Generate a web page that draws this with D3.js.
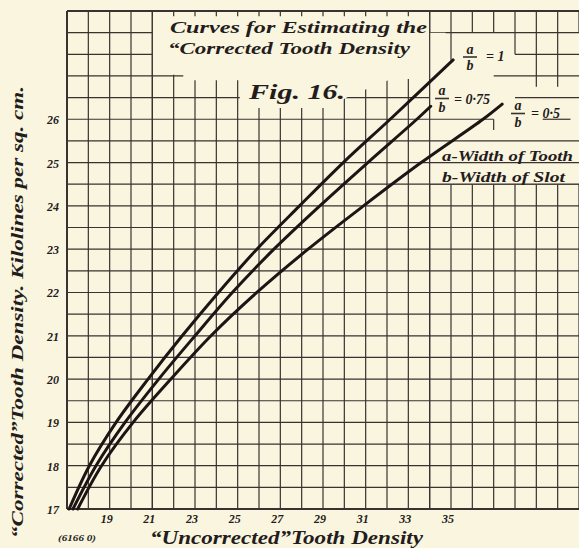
<!DOCTYPE html>
<html>
<head>
<meta charset="utf-8">
<script src="https://cdn.jsdelivr.net/npm/d3@7"></script>
<style>
  body { margin: 0; background: #f9f5de; }
  svg { display: block; }
  text { font-family: "Liberation Serif", "DejaVu Serif", serif; font-style: italic; font-weight: bold; fill: #241c1c; }
</style>
</head>
<body>
<svg id="chart" width="579" height="548"></svg>
<script>
// values (kilolines per sq. cm)
const xTicks = [19, 21, 23, 25, 27, 29, 31, 33, 35];
const yTicks = [17, 18, 19, 20, 21, 22, 23, 24, 25, 26];

// a/b = 1
const uncorrected_1 = [17.1, 18.05, 19.3, 20.8, 22.4, 24.1, 25.9, 27.9, 29.95, 32.15, 35.1];
const corrected_1 = [17, 18, 19, 20, 21, 22, 23, 24, 25, 26, 27.37];
// a/b = 0.75
const uncorrected_075 = [17.28, 18.36, 19.72, 21.3, 23.0, 24.75, 26.7, 28.85, 31.1, 33.4, 34.05];
const corrected_075 = [17, 18, 19, 20, 21, 22, 23, 24, 25, 26, 26.3];
// a/b = 0.5
const uncorrected_05 = [17.5, 18.62, 20.1, 21.87, 23.75, 25.9, 28.3, 30.9, 33.6, 36.5, 37.4];
const corrected_05 = [17, 18, 19, 20, 21, 22, 23, 24, 25, 26, 26.35];

const svg = d3.select('#chart');
const width = 579, height = 548;

const x = d3.scaleLinear().domain([17, 41]).range([67, 579]);
const y = d3.scaleLinear().domain([17, 28.5]).range([509, 11]);

const ink = '#3a3131';
const paper = '#f9f5de';

svg.append('rect').attr('width', width).attr('height', height).attr('fill', paper);

// full grid first, blank patches get painted over it afterwards
const grid = svg.append('g').attr('stroke', ink).attr('stroke-width', 1.2);
grid.selectAll('.v').data(d3.range(17, 42)).enter().append('line')
    .attr('x1', d => x(d)).attr('x2', d => x(d))
    .attr('y1', y(17)).attr('y2', y(28.5));
grid.selectAll('.h').data(d3.range(17, 28.51, 0.5)).enter().append('line')
    .attr('x1', x(17)).attr('x2', x(41))
    .attr('y1', d => y(d)).attr('y2', d => y(d));

// blank patches (in chart units) where the printed grid was left out
const blanks = [
    [[21, 28.38], [34, 28.38], [34, 26.93], [32.2, 26.93], [30.25, 26.54], [29.2, 26.26],
     [25.1, 26.26], [25.1, 26.9], [22.45, 26.9], [22.45, 27.03], [21, 27.03]],
    [[34, 28], [41.5, 28], [41.5, 24.5], [34, 24.5]]
];
svg.append('g').selectAll('polygon').data(blanks).enter().append('polygon')
    .attr('points', d => d.map(p => [x(p[0]), y(p[1])].join(',')).join(' '))
    .attr('fill', paper);

// grid pieces that survive inside the blank patches
const keep = [
    [21, 28.5, 21, 17], [34, 28.5, 34, 17],
    [34.75, 28, 41, 28], [34, 24.5, 41, 24.5],
    [35, 28, 35, 27.35], [38, 28, 38, 27.5], [39, 28, 39, 26.75], [40, 28, 40, 26.75],
    [38, 27.5, 41, 27.5], [37, 27, 41, 27], [38, 26.5, 41, 26.5],
    [34, 26, 37, 26], [37, 26, 37, 25.75], [39.3, 26, 40.6, 26],
    [34, 25.5, 41, 25.5], [34, 25, 41, 25]
];
svg.append('g').attr('stroke', ink).attr('stroke-width', 1.2)
    .selectAll('line').data(keep).enter().append('line')
    .attr('x1', d => x(d[0])).attr('y1', d => y(d[1]))
    .attr('x2', d => x(d[2])).attr('y2', d => y(d[3]));

// frame
const frame = svg.append('g').attr('stroke', ink).attr('stroke-width', 2);
frame.append('line').attr('x1', x(17)).attr('x2', x(41)).attr('y1', y(17)).attr('y2', y(17));
frame.append('line').attr('x1', x(17)).attr('x2', x(17)).attr('y1', y(17)).attr('y2', y(28.5));
frame.append('line').attr('x1', x(17)).attr('x2', x(41)).attr('y1', y(28.5)).attr('y2', y(28.5));

// curves
const series = [
    { xs: uncorrected_1, ys: corrected_1 },
    { xs: uncorrected_075, ys: corrected_075 },
    { xs: uncorrected_05, ys: corrected_05 }
];
const line = d3.line().x(d => x(d[0])).y(d => y(d[1])).curve(d3.curveCatmullRom.alpha(0.5));
svg.append('g').selectAll('path').data(series).enter().append('path')
    .attr('d', s => line(s.xs.map((v, i) => [v, s.ys[i]])))
    .attr('fill', 'none').attr('stroke', '#1b1515').attr('stroke-width', 3)
    .attr('stroke-linecap', 'round');

// tick labels
svg.append('g').selectAll('text').data(yTicks).enter().append('text')
    .attr('x', 59).attr('y', d => y(d) + 5)
    .attr('text-anchor', 'end').attr('font-size', 12).text(d => d);
svg.append('g').selectAll('text').data(xTicks).enter().append('text')
    .attr('x', d => x(d) - 3).attr('y', 523)
    .attr('text-anchor', 'middle').attr('font-size', 12).text(d => d);

// axis titles
svg.append('text').attr('x', 150).attr('y', 544).attr('font-size', 19)
    .attr('textLength', 273).attr('lengthAdjust', 'spacingAndGlyphs')
    .text('\u201cUncorrected\u201dTooth Density');
svg.append('text').attr('x', 58).attr('y', 541).attr('font-size', 9)
    .attr('textLength', 38).attr('lengthAdjust', 'spacingAndGlyphs').text('(6166 0)');
svg.append('text').attr('transform', 'translate(23,312) rotate(-90)')
    .attr('text-anchor', 'middle').attr('font-size', 17)
    .attr('textLength', 452).attr('lengthAdjust', 'spacingAndGlyphs')
    .text('\u201cCorrected\u201dTooth Density. Kilolines per sq. cm.');

// title box text
svg.append('text').attr('x', 170).attr('y', 33).attr('font-size', 17)
    .attr('textLength', 257).attr('lengthAdjust', 'spacingAndGlyphs')
    .text('Curves for Estimating the');
svg.append('text').attr('x', 168).attr('y', 54).attr('font-size', 17)
    .attr('textLength', 242).attr('lengthAdjust', 'spacingAndGlyphs')
    .text('\u201cCorrected  Tooth Density');
svg.append('text').attr('x', 249).attr('y', 99).attr('font-size', 21)
    .attr('textLength', 96).attr('lengthAdjust', 'spacingAndGlyphs')
    .text('Fig. 16.');

// a/b labels
const fractions = [
    { cx: 470, bar: 57, value: '= 1', vx: 486, vy: 61 },
    { cx: 442, bar: 98.5, value: '= 0\u00b775', vx: 454, vy: 104 },
    { cx: 518, bar: 113.5, value: '= 0\u00b75', vx: 531, vy: 118 }
];
const fr = svg.append('g').selectAll('g').data(fractions).enter().append('g');
fr.append('text').attr('x', d => d.cx).attr('y', d => d.bar - 3.5)
    .attr('text-anchor', 'middle').attr('font-size', 14).text('a');
fr.append('text').attr('x', d => d.cx).attr('y', d => d.bar + 13)
    .attr('text-anchor', 'middle').attr('font-size', 14).text('b');
fr.append('line').attr('x1', d => d.cx - 7).attr('x2', d => d.cx + 7)
    .attr('y1', d => d.bar).attr('y2', d => d.bar)
    .attr('stroke', ink).attr('stroke-width', 1.6);
fr.append('text').attr('x', d => d.vx).attr('y', d => d.vy)
    .attr('font-size', 14).text(d => d.value);

svg.append('text').attr('x', 442).attr('y', 161).attr('font-size', 15)
    .attr('textLength', 131).attr('lengthAdjust', 'spacingAndGlyphs')
    .text('a-Width of Tooth');
svg.append('text').attr('x', 442).attr('y', 182).attr('font-size', 15)
    .attr('textLength', 123).attr('lengthAdjust', 'spacingAndGlyphs')
    .text('b-Width of Slot');
</script>
</body>
</html>
